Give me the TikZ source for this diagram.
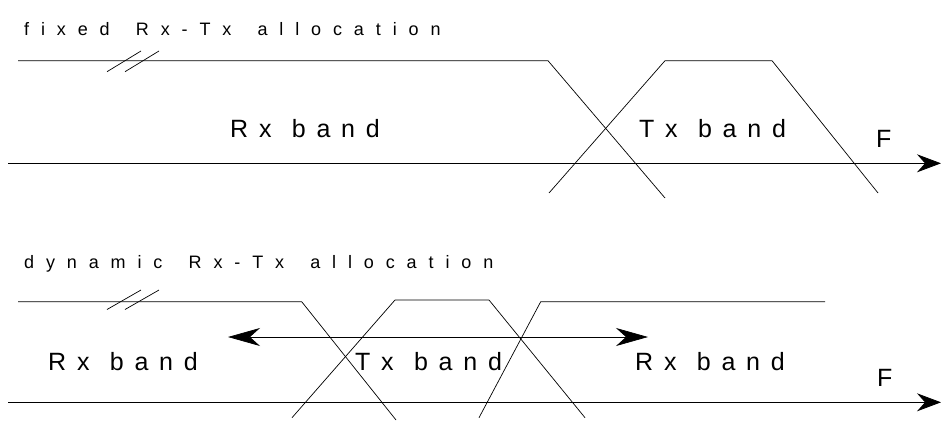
\documentclass[tikz,border=0pt]{standalone}
\usepackage{fontspec}
\setmainfont{Liberation Sans}
\newfontfamily\titlefont[LetterSpace=66, WordSpace=1.55]{Liberation Sans}
\newfontfamily\bandfont[LetterSpace=43, WordSpace=1.15]{Liberation Sans}
\usetikzlibrary{arrows.meta}
\tikzset{
	title/.style={anchor=base west, inner sep=0pt, font=\titlefont\fontsize{18}{22}\selectfont},
	band/.style={anchor=base west, inner sep=0pt, font=\bandfont\fontsize{25}{30}\selectfont},
	axis/.style={line width=0.8pt, -{Stealth[length=24pt, width=18pt, inset=8pt]}},
	edge/.style={line width=0.7pt}
}
\begin{document}
\begin{tikzpicture}[x=1pt, y=-1pt]
	\useasboundingbox (0,0) rectangle (941,421);
	% fixed allocation
	\node[title] (fixtitle) at (24, 35) {fixed Rx-Tx allocation};
	\draw[axis] (8, 163.3)--(941, 163.3);
	\draw[edge] (18, 60.7)--(548, 60.7)--(665, 198);
	\draw[edge] (549, 193)--(665, 60.7)--(772, 60.7)--(878, 193);
	\foreach \x in {107, 125}
		\draw[edge] (\x, 71.7)--(\x+34, 51);
		\node[band] (fixrx) at (230, 137.3) {Rx band};
		\node[band] (fixtx) at (639, 137.3) {Tx band};
		\node[band] (fixf) at (876, 147) {F};
	% dynamic allocation
	\node[title] (dyntitle) at (24, 268) {dynamic Rx-Tx allocation};
	\draw[axis] (8, 402.3)--(941, 402.3);
	\draw[edge] (18, 301.7)--(301.7, 301.7)--(396, 420);
	\draw[edge] (292, 417.7)--(395, 300)--(489, 300)--(585, 417.7);
	\draw[edge] (479, 417.7)--(540.7, 301.7)--(825, 301.7);
	\foreach \x in {107, 125}
		\draw[edge] (\x, 309.5)--(\x+34, 290);
	\draw[line width=0.7pt, {Stealth[length=32pt, width=18pt, inset=10pt]}-{Stealth[length=32pt, width=18pt, inset=10pt]}] (228, 337)--(648, 337);
		\node[band] (dynrxl) at (48, 370.7) {Rx band};
		\node[band] (dyntx) at (355, 370.7) {Tx band};
		\node[band] (dynrxr) at (635, 370.7) {Rx band};
		\node[band] (dynf) at (877, 386) {F};
\end{tikzpicture}
\end{document}
